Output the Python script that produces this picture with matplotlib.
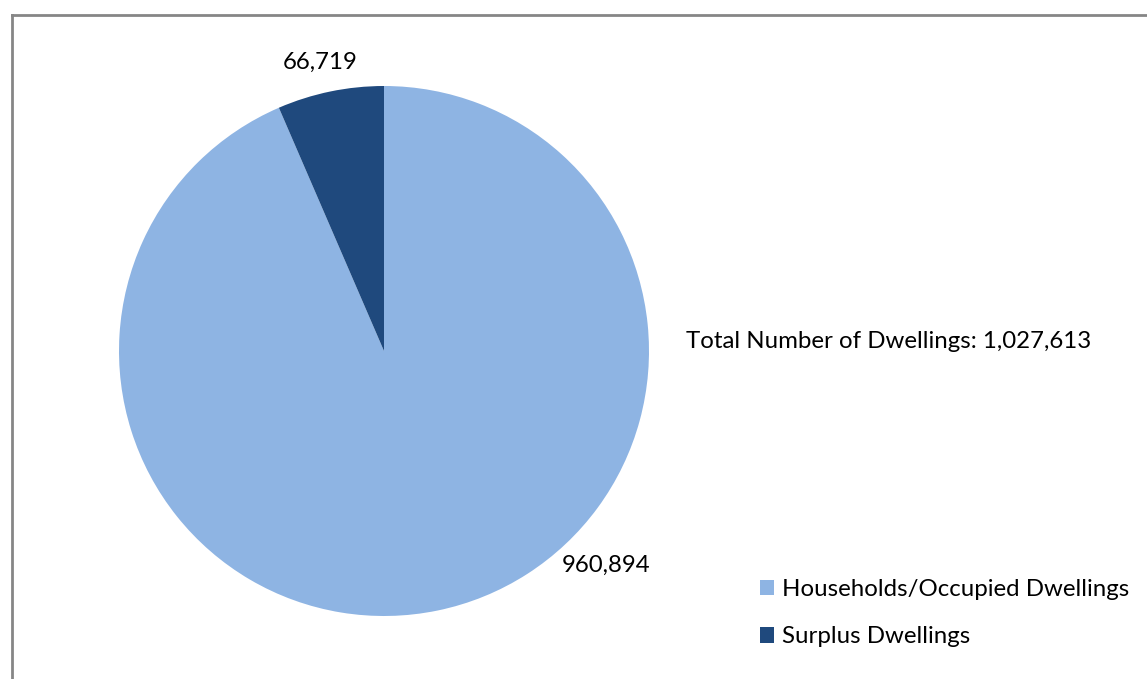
import matplotlib.pyplot as plt
from matplotlib.patches import Patch

labels = ["Households/Occupied Dwellings", "Surplus Dwellings"]
values = [960894, 66719]
colors = ["#8EB4E3", "#1F497D"]
total_text = "Total Number of Dwellings: 1,027,613"

plt.rcParams['font.family'] = ['Lato', 'DejaVu Sans']

W, H = 1147, 679
fig = plt.figure(figsize=(W / 100, H / 100), dpi=100)
ax = fig.add_axes([0, 0, 1, 1])

# pie in pixel coords (y up)
ax.pie(values, colors=colors, startangle=90, counterclock=False,
       center=(384, H - 351), radius=265, frame=True,
       wedgeprops=dict(edgecolor='none'))
ax.set_xlim(0, W)
ax.set_ylim(0, H)
ax.axis('off')

fs = 17.3
ax.text(320, H - 62, f"{values[1]:,}", ha='center', va='center', fontsize=fs)
ax.text(606, H - 565, f"{values[0]:,}", ha='center', va='center', fontsize=fs)
ax.text(686, H - 342, total_text, ha='left', va='center', fontsize=fs)

handles = [Patch(facecolor=c, edgecolor='none') for c in colors]
ax.legend(handles, labels, loc='upper left',
          bbox_to_anchor=(748 / W, 1 - 567 / H), frameon=False,
          fontsize=fs, handlelength=0.6, handleheight=0.6,
          handletextpad=0.3, labelspacing=1.1, borderpad=0)

# chart frame (only left and top visible)
fig.add_artist(plt.Line2D([12 / W, 12 / W], [0, 1 - 15 / H], color='#868686', lw=2))
fig.add_artist(plt.Line2D([12 / W, 1], [1 - 15 / H, 1 - 15 / H], color='#868686', lw=2))

fig.savefig("out.png", dpi=100)
